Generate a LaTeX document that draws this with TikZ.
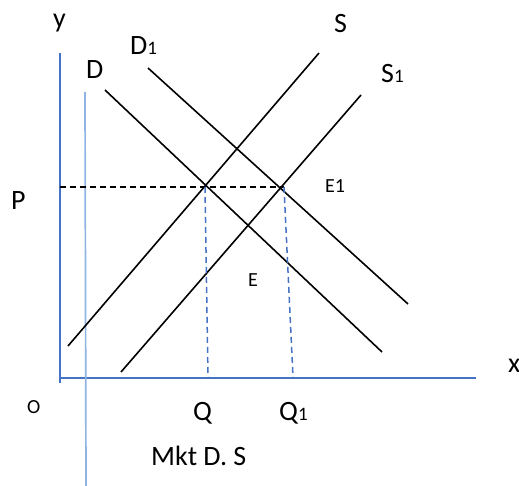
\documentclass[tikz,border=0pt]{standalone}
\usepackage{fontspec}
\setmainfont{Carlito}
\usepackage{tikz}
\usetikzlibrary{positioning,calc}

\definecolor{axisblue}{HTML}{4472C4}
\definecolor{lightaxis}{HTML}{8FB4E3}

\tikzset{
    curve/.style={black, line width=1.6pt},
    axis/.style={axisblue, line width=1.7pt},
    guide/.style={black, line width=1.3pt, dash pattern=on 6pt off 4pt},
    drop/.style={axisblue, line width=1.5pt, dash pattern=on 6pt off 4pt},
    lbl/.style={anchor=base west, inner sep=0pt, font=\fontsize{28}{28}\selectfont},
    smalllbl/.style={anchor=base west, inner sep=0pt, font=\fontsize{20}{20}\selectfont}
}
\newcommand{\sub}[1]{{\fontsize{19}{19}\selectfont #1}}

\begin{document}
\begin{tikzpicture}[x=1pt, y=-1pt]
    \useasboundingbox (0,0) rectangle (519,486);
    % axes
    \draw[axis] (60,53) -- (60,383);
    \draw[axis] (60,378) -- (476,378);
    \draw[lightaxis, line width=1.7pt] (85,92) -- (86,486);
    % demand and supply
    \coordinate (S-lo) at (68,346);   \coordinate (S-hi) at (319,53);
    \coordinate (S1-lo) at (121,372); \coordinate (S1-hi) at (361,95);
    \coordinate (D-hi) at (105,90);   \coordinate (D-lo) at (382,352);
    \coordinate (D1-hi) at (148,68);  \coordinate (D1-lo) at (408,304);
    \draw[curve] (S-lo) -- (S-hi);
    \draw[curve] (S1-lo) -- (S1-hi);
    \draw[curve] (D-hi) -- (D-lo);
    \draw[curve] (D1-hi) -- (D1-lo);
    % equilibrium guides
    \coordinate (E0) at (205,187);
    \coordinate (E1pt) at (284,187);
    \draw[guide] (60,187) -- (E1pt);
    \draw[drop] (E0) -- (208,377);
    \draw[drop] (E1pt) -- (293,377);
    % labels
    \node[lbl] (ylab) at (53,28) {y};
    \node[lbl] (d1lab) at (130,55) {D\sub{1}};
    \node[lbl] (dlab) at (86,79) {D};
    \node[lbl] (slab) at (334,33) {S};
    \node[lbl] (s1lab) at (381,83) {S\sub{1}};
    \node[smalllbl] (e1lab) at (325,193) {E1};
    \node[lbl] (plab) at (11,210) {P};
    \node[smalllbl] (elab) at (248,287) {E};
    \node[smalllbl] (olab) at (27,413) {O};
    \node[lbl] (qlab) at (193,420) {Q};
    \node[lbl] (q1lab) at (279,420) {Q\sub{1}};
    \node[lbl] (mktlab) at (151,465) {Mkt D. S};
    \node[lbl] (xlab) at (508,372) {x};
\end{tikzpicture}
\end{document}
